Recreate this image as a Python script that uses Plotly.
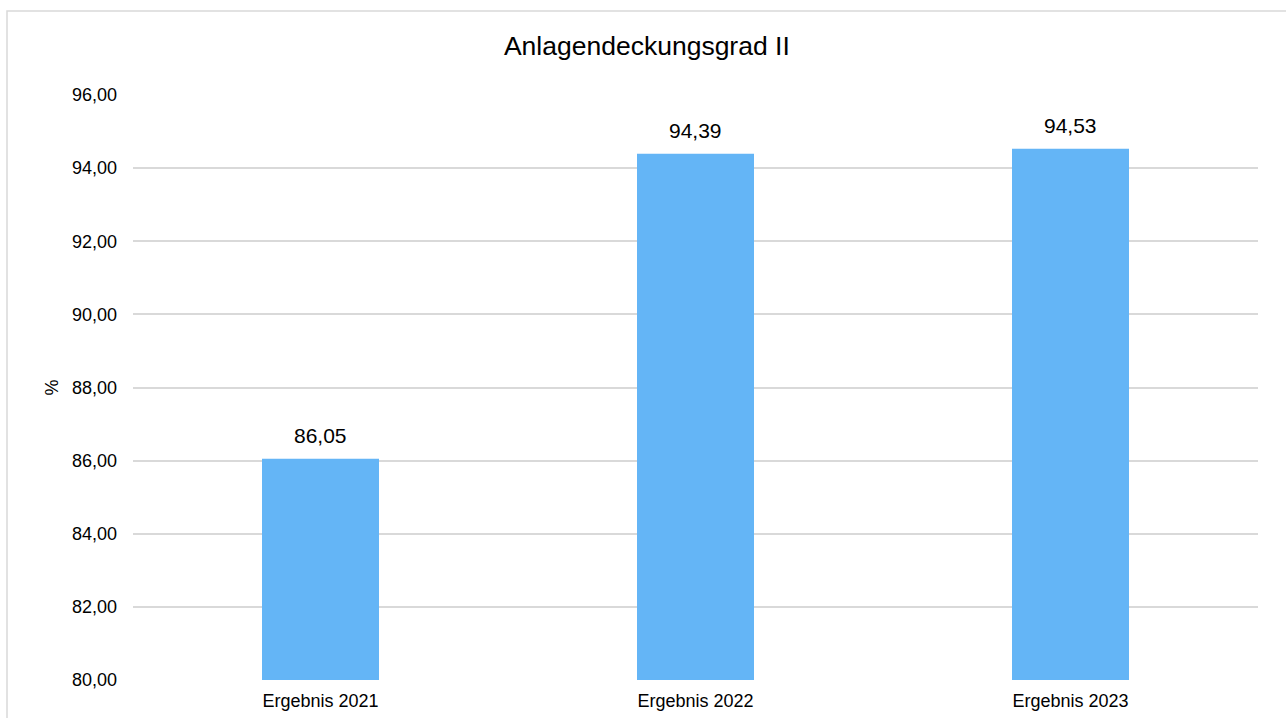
import plotly.graph_objects as go

# Chart data
categories = ["Ergebnis 2021", "Ergebnis 2022", "Ergebnis 2023"]
values = [86.05, 94.39, 94.53]
y_ticks = [80, 82, 84, 86, 88, 90, 92, 94, 96]
y_tick_labels = ["80,00", "82,00", "84,00", "86,00", "88,00", "90,00", "92,00", "94,00", "96,00"]
title_text = "Anlagendeckungsgrad II"
y_title = "%"

FONT = "Liberation Sans, Arial, sans-serif"
BAR_COLOR = "#64B5F6"
GRID_COLOR = "#d9d9d9"

W, H = 1286, 718
L, R, T, B = 133, 28, 95, 38
PW, PH = W - L - R, H - T - B

fig = go.Figure()
fig.add_trace(go.Bar(
    x=categories,
    y=values,
    marker=dict(color=BAR_COLOR, line=dict(width=0)),
    hoverinfo="skip",
))

# value labels above each bar (German decimal comma)
for cat, v in zip(categories, values):
    fig.add_annotation(
        x=cat, y=v, xref="x", yref="y",
        text=f"{v:.2f}".replace(".", ","),
        showarrow=False, yanchor="bottom", yshift=10,
        font=dict(family=FONT, size=21, color="#000000"),
    )

# rotated axis unit label
fig.add_annotation(
    x=(51 - L) / PW, y=0.5, xref="paper", yref="paper",
    text=y_title, textangle=-90, showarrow=False,
    xanchor="center", yanchor="middle",
    font=dict(family=FONT, size=18, color="#000000"),
)

# outer chart frame (runs off the right and bottom edges)
fig.add_shape(
    type="rect", xref="paper", yref="paper",
    x0=(7 - L) / PW, x1=(W + 10 - L) / PW,
    y0=((H - B) - (H + 10)) / PH, y1=((H - B) - 11) / PH,
    line=dict(color=GRID_COLOR, width=1.5), fillcolor="rgba(0,0,0,0)",
    layer="below",
)

fig.update_layout(
    width=W, height=H,
    margin=dict(l=L, r=R, t=T, b=B, autoexpand=False),
    paper_bgcolor="white", plot_bgcolor="white",
    bargap=0.688,
    showlegend=False,
    font=dict(family=FONT, color="#000000"),
    title=dict(
        text=title_text, x=0.503, xref="container", xanchor="center",
        y=1 - 46 / H, yref="container", yanchor="middle",
        font=dict(family=FONT, size=26.5, color="#000000"),
    ),
    xaxis=dict(
        showgrid=False, zeroline=False, showline=False,
        ticks="", tickfont=dict(family=FONT, size=18, color="#000000"),
        ticklabelstandoff=8,
    ),
    yaxis=dict(
        range=[80, 96], tickvals=y_ticks, ticktext=y_tick_labels,
        showgrid=True, gridcolor=GRID_COLOR, gridwidth=1.5,
        zeroline=False, showline=False, ticks="",
        tickfont=dict(family=FONT, size=18, color="#000000"),
        ticklabelstandoff=15,
    ),
)

fig.write_html("out.html")
